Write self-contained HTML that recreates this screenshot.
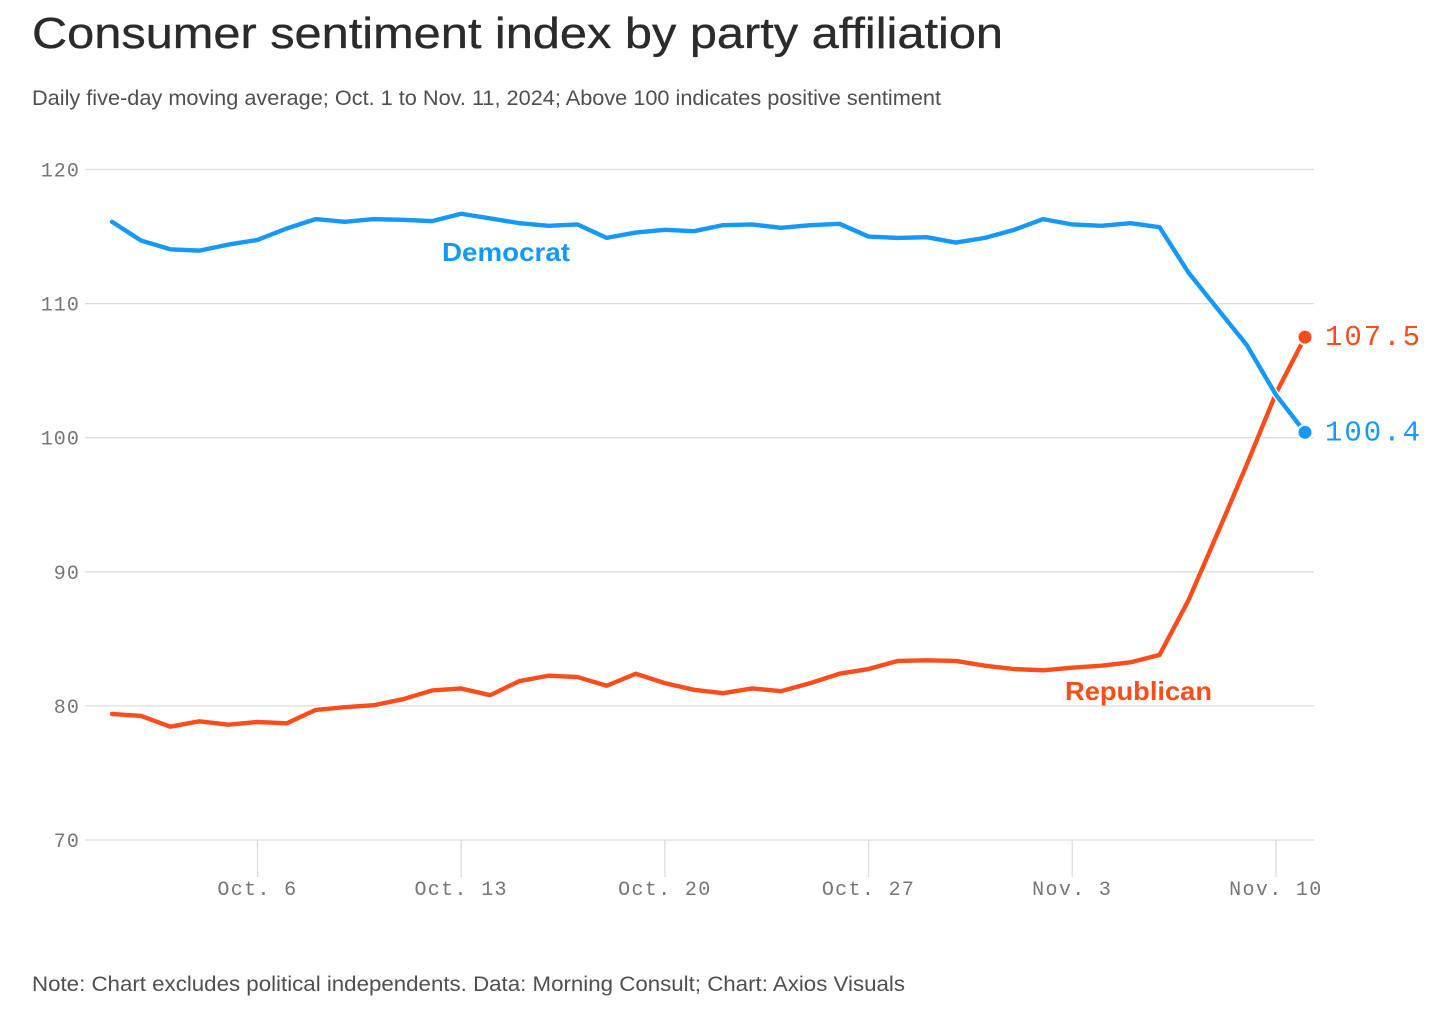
<!DOCTYPE html>
<html lang="en">
<head>
<meta charset="utf-8">
<title>Consumer sentiment index by party affiliation</title>
<style>
html,body{margin:0;padding:0;background:#fff;width:1456px;height:1010px;overflow:hidden}
svg{display:block}
text{font-family:"Liberation Sans",sans-serif}
.mono{font-family:"Liberation Mono",monospace}
</style>
</head>
<body>
<svg id="chart" width="1456" height="1010" viewBox="0 0 1456 1010" xmlns="http://www.w3.org/2000/svg">
<text x="32" y="48" font-size="44" fill="#2b2b2b" stroke="#2b2b2b" stroke-width="0.35" textLength="971" lengthAdjust="spacingAndGlyphs">Consumer sentiment index by party affiliation</text>
<text x="32" y="105" font-size="21" fill="#4f4f4f" textLength="909" lengthAdjust="spacingAndGlyphs">Daily five-day moving average; Oct. 1 to Nov. 11, 2024; Above 100 indicates positive sentiment</text>
<g id="grid"></g>
<g id="yAxis"></g>
<g id="xAxis"></g>
<g id="series"></g>
<text x="442" y="261" font-size="26" font-weight="bold" fill="#1598f8" textLength="128" lengthAdjust="spacingAndGlyphs">Democrat</text>
<text x="1065" y="700" font-size="26" font-weight="bold" fill="#fb4d1c" textLength="147" lengthAdjust="spacingAndGlyphs">Republican</text>
<text x="32" y="991" font-size="21" fill="#4f4f4f" textLength="873" lengthAdjust="spacingAndGlyphs">Note: Chart excludes political independents. Data: Morning Consult; Chart: Axios Visuals</text>
</svg>
<script>
const democratValues = [116.1,114.7,114.05,113.95,114.4,114.75,115.6,116.3,116.1,116.3,116.25,116.15,116.7,116.35,116,115.8,115.9,114.9,115.3,115.5,115.4,115.85,115.9,115.65,115.85,115.95,115,114.9,114.95,114.55,114.9,115.5,116.3,115.9,115.8,116,115.7,112.3,109.6,106.9,103.2,100.4];
const republicanValues = [79.4,79.25,78.45,78.85,78.6,78.8,78.7,79.7,79.9,80.05,80.5,81.15,81.3,80.8,81.85,82.25,82.15,81.5,82.4,81.7,81.2,80.95,81.3,81.1,81.7,82.4,82.75,83.35,83.4,83.35,83,82.75,82.65,82.85,83,83.25,83.8,87.9,92.9,98,103.3,107.5];
const yTicks = [70,80,90,100,110,120];
const xTickDays = [5,12,19,26,33,40];
const xTickLabels = ["Oct. 6","Oct. 13","Oct. 20","Oct. 27","Nov. 3","Nov. 10"];
const democratEndLabel = "100.4";
const republicanEndLabel = "107.5";

const NS = "http://www.w3.org/2000/svg";
const xScale = d => 112 + d * 29.098;
const yScale = v => 840 - (v - 70) * 13.41;
function make(tag, attrs, parent){
  const el = document.createElementNS(NS, tag);
  for (const k in attrs) el.setAttribute(k, attrs[k]);
  parent.appendChild(el);
  return el;
}
const grid = document.getElementById('grid');
const yAxis = document.getElementById('yAxis');
const xAxis = document.getElementById('xAxis');
const series = document.getElementById('series');

yTicks.forEach(v => {
  const line = make('line', {x1:85, x2:1314, y1:yScale(v), y2:yScale(v), stroke:'#dcdcdc', 'stroke-width':1.3}, grid);
  
  
  const t = make('text', {x:80, y:yScale(v)+7, 'text-anchor':'end', 'font-size':20, 'letter-spacing':1.1, fill:'#767676', class:'mono'}, yAxis);
  
  
  t.textContent = v;
});
xTickDays.forEach((d, i) => {
  const line = make('line', {x1:xScale(d), x2:xScale(d), y1:840, y2:877, stroke:'#dcdcdc', 'stroke-width':1.3}, xAxis);
  
  
  const t = make('text', {x:xScale(d), y:895, 'text-anchor':'middle', 'font-size':20, 'letter-spacing':1.35, fill:'#767676', class:'mono'}, xAxis);
  
  
  t.textContent = xTickLabels[i];
});
function linePath(vals){
  return vals.map((v, i) => (i ? 'L' : 'M') + xScale(i).toFixed(2) + ' ' + yScale(v).toFixed(2)).join(' ');
}
function drawSeries(name, vals, color, endText){
  const d = linePath(vals);
  const casing = make('path', {d:d, fill:'none', stroke:'#fff', 'stroke-width':7, 'stroke-linejoin':'round'}, series);
  
  
  const path = make('path', {d:d, fill:'none', stroke:color, 'stroke-width':4.4, 'stroke-linejoin':'round', 'stroke-linecap':'round'}, series);
  
  
  const last = vals.length - 1;
  const dot = make('circle', {cx:xScale(last), cy:yScale(vals[last]), r:7.5, fill:color, stroke:'#fff', 'stroke-width':2}, series);
  
  
  const t = make('text', {x:1325, y:yScale(vals[last])+8, 'font-size':29, 'letter-spacing':2, fill:color, class:'mono'}, series);
  
  
  t.textContent = endText;
}
drawSeries('republican', republicanValues, '#fb4d1c', republicanEndLabel);
drawSeries('democrat', democratValues, '#1598f8', democratEndLabel);
</script>
</body>
</html>
